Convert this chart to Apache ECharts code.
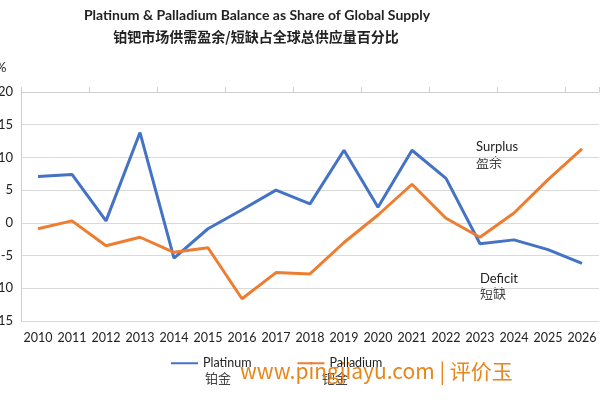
<!DOCTYPE html>
<html><head><meta charset="utf-8">
<script src="https://cdn.jsdelivr.net/npm/echarts@6/dist/echarts.min.js"></script>
<style>html,body{margin:0;padding:0;background:#fff}#c{width:600px;height:400px}</style>
</head><body><div id="c"></div>
<script>
var years = ['2010','2011','2012','2013','2014','2015','2016','2017','2018','2019','2020','2021','2022','2023','2024','2025','2026'];
var platinum = [7.1, 7.4, 0.3, 13.8, -5.4, -0.9, 2.0, 5.0, 2.9, 11.1, 2.4, 11.1, 6.8, -3.2, -2.6, -4.1, -6.2];
var palladium = [-0.9, 0.3, -3.5, -2.2, -4.5, -3.8, -11.6, -7.6, -7.8, -3.0, 1.2, 5.9, 0.7, -2.2, 1.5, 6.6, 11.3];
var yTicks = {min: -15, max: 20, interval: 5};

var chart = echarts.init(document.getElementById('c'), null, {renderer: 'canvas'});
var font = 'Lato, "Noto Sans CJK SC", sans-serif';
chart.setOption({
  animation: false,
  backgroundColor: '#fff',
  textStyle: {fontFamily: font},
  grid: {left: 21, right: 1, top: 92, bottom: 79, containLabel: false, outerBoundsMode: 'none'},
  xAxis: [{
    type: 'category', data: years, position: 'bottom',
    axisLine: {show: false}, axisTick: {show: false},
    axisLabel: {color: '#222', fontSize: 12.5, margin: 11, interval: 0}
  }, {
    type: 'category', data: years, gridIndex: 0,
    axisLine: {show: true, onZero: true, lineStyle: {color: '#cfcfcf', width: 1}},
    axisTick: {show: true, length: 5, lineStyle: {color: '#cfcfcf'}},
    axisLabel: {show: false}, splitLine: {show: false}
  }],
  yAxis: {
    type: 'value', min: yTicks.min, max: yTicks.max, interval: yTicks.interval,
    axisLine: {show: true, lineStyle: {color: '#cfcfcf'}},
    axisTick: {show: false},
    axisLabel: {color: '#222', fontSize: 13, margin: 8},
    splitLine: {lineStyle: {color: '#d9d9d9', width: 1}}
  },
  legend: {
    data: ['Platinum', 'Palladium'], left: 166, top: 352, itemGap: 46,
    itemWidth: 27, itemHeight: 10,
    textStyle: {color: '#222', fontSize: 12.5, fontFamily: font},
    icon: 'path://M0,4 L27,4 L27,6 L0,6 Z'
  },
  series: [{
    name: 'Platinum', type: 'line', data: platinum, showSymbol: false, symbol: 'none',
    lineStyle: {color: '#4472C4', width: 3}, itemStyle: {color: '#4472C4'}
  }, {
    name: 'Palladium', type: 'line', data: palladium, showSymbol: false, symbol: 'none',
    lineStyle: {color: '#ED7D31', width: 3}, itemStyle: {color: '#ED7D31'}
  }],
  graphic: [
    {type: 'text', x: 257, y: 8, style: {text: 'Platinum & Palladium Balance as Share of Global Supply', font: 'bold 14px Lato, sans-serif', fill: '#222', align: 'center'}},
    {type: 'text', x: 256, y: 30, style: {text: '铂钯市场供需盈余/短缺占全球总供应量百分比', font: 'bold 14px "Noto Sans CJK SC", sans-serif', fill: '#222', align: 'center'}},
    {type: 'text', x: -4, y: 61, style: {text: '%', font: '13px Lato, sans-serif', fill: '#222'}},
    {type: 'text', x: 476, y: 140, style: {text: 'Surplus', font: '13px Lato, sans-serif', fill: '#222'}},
    {type: 'text', x: 476, y: 156, style: {text: '盈余', font: '13px "Noto Sans CJK SC", sans-serif', fill: '#444'}},
    {type: 'text', x: 480, y: 272, style: {text: 'Deficit', font: '13px Lato, sans-serif', fill: '#222'}},
    {type: 'text', x: 480, y: 287, style: {text: '短缺', font: '13px "Noto Sans CJK SC", sans-serif', fill: '#444'}},
    {type: 'text', x: 205, y: 372, style: {text: '铂金', font: '13px "Noto Sans CJK SC", sans-serif', fill: '#444'}},
    {type: 'text', x: 322, y: 372, style: {text: '钯金', font: '13px "Noto Sans CJK SC", sans-serif', fill: '#444'}},
    {type: 'text', x: 240, y: 361, style: {text: 'www.pingjiayu.com | 评价玉', font: '21px "Noto Sans CJK SC", sans-serif', fill: '#E8861A'}}
  ]
});
</script>
</body></html>
